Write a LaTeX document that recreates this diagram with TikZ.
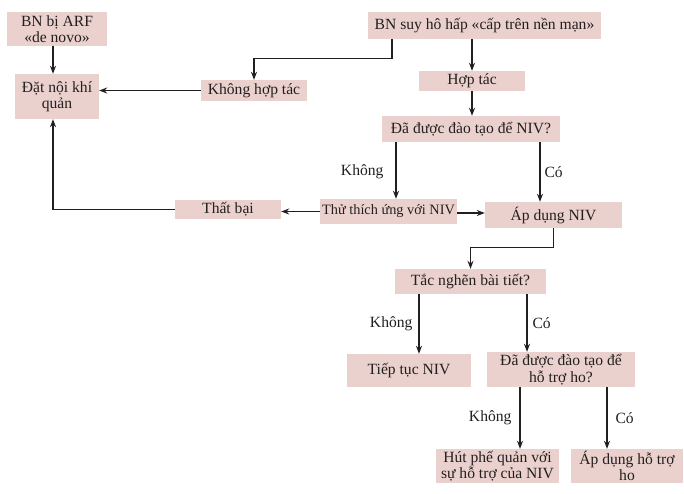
\documentclass[tikz,border=0pt]{standalone}
\usepackage{fontspec}
\setmainfont{Liberation Serif}
\usetikzlibrary{arrows.meta,calc}
\definecolor{boxfill}{HTML}{EBD1CD}
\definecolor{ink}{HTML}{231F20}
\begin{document}
\begin{tikzpicture}[x=1pt,y=-1pt,
 box/.style={fill=boxfill, inner sep=0pt, align=center, text=ink, font=\fontsize{15.6}{16.5}\selectfont},
 arr/.style={draw=ink, line width=1.1pt, -{Stealth[length=8pt,width=6pt]}},
 lbl/.style={text=ink, inner sep=0pt, font=\fontsize{15.6}{16.5}\selectfont}]
\useasboundingbox (0,0) rectangle (684,493);
% nodes
\node[box, minimum width=100pt, minimum height=34pt] (arf) at (57,29) {BN bị ARF\\«de novo»};
\node[box, minimum width=84pt, minimum height=45pt] (dat) at (57,96.5) {Đặt nội khí\\quản};
\node[box, minimum width=106pt, minimum height=21pt] (khong) at (254,90.5) {Không hợp tác};
\node[box, minimum width=233pt, minimum height=27pt] (bn) at (484.5,25.5) {BN suy hô hấp «cấp trên nền mạn»};
\node[box, minimum width=106pt, minimum height=20pt] (hop) at (472,81) {Hợp tác};
\node[box, minimum width=178pt, minimum height=26pt] (dao) at (471,129) {Đã được đào tạo để NIV?};
\node[box, minimum width=137pt, minimum height=25pt, font=\fontsize{14.3}{16}\selectfont] (thu) at (388.5,211.5) {Thử thích ứng với NIV};
\node[box, minimum width=106pt, minimum height=19pt] (that) at (228,209.5) {Thất bại};
\node[box, minimum width=137pt, minimum height=26pt] (ap) at (553.5,215) {Áp dụng NIV};
\node[box, minimum width=151pt, minimum height=25pt] (tac) at (470.5,281.5) {Tắc nghẽn bài tiết?};
\node[box, minimum width=124pt, minimum height=33pt] (tiep) at (409,370.5) {Tiếp tục NIV};
\node[box, minimum width=148pt, minimum height=35pt] (hoho) at (561,369.5) {Đã được đào tạo để\\hỗ trợ ho?};
\node[box, minimum width=123pt, minimum height=34pt] (hut) at (497.5,466) {Hút phế quản với\\sự hỗ trợ của NIV};
\node[box, minimum width=112pt, minimum height=34pt] (aph) at (627,466) {Áp dụng hỗ trợ\\ho};
% helper coordinates on box edges
\coordinate (a1) at ($(arf.south)+(-4,0)$);
\coordinate (b1) at ($(bn.south)+(-92.5,0)$);
\coordinate (d1) at ($(dao.south)+(-75,0)$);
\coordinate (d2) at ($(dao.south)+(69,0)$);
\coordinate (t1) at ($(tac.south)+(-51.5,0)$);
\coordinate (t2) at ($(tac.south)+(56.5,0)$);
\coordinate (h1) at ($(hoho.south)+(-41,0)$);
\coordinate (h2) at ($(hoho.south)+(46,0)$);
% connectors
\draw[arr] (a1) -- (a1 |- dat.north);
\draw[arr] (khong.west) -- (khong.west -| dat.east);
\draw[arr] (b1) -- ++(0,19) -| (khong.north);
\draw[arr] (bn.south -| hop.north) -- (hop.north);
\draw[arr] (hop.south) -- (hop.south |- dao.north);
\draw[arr] (d1) -- (d1 |- thu.north) node[lbl, pos=0.53, left=12pt] {Không};
\draw[arr] (d2) -- (d2 |- ap.north) node[lbl, pos=0.5, right=4pt] {Có};
\draw[arr] (thu.west) -- (thu.west -| that.east);
\draw[arr] ($(thu.east)+(0,1.5)$) -- ($(thu.east -| ap.west)+(0,1.5)$);
\draw[arr] (that.west) -| (a1 |- dat.south);
\draw[arr] (ap.south) -- ++(0,19) -| (tac.north);
\draw[arr] (t1) -- (t1 |- tiep.north) node[lbl, pos=0.5, left=6pt] {Không};
\draw[arr] (t2) -- (t2 |- hoho.north) node[lbl, pos=0.5, right=5pt] {Có};
\draw[arr] (h1) -- (h1 |- hut.north) node[lbl, pos=0.5, left=8pt] {Không};
\draw[arr] (h2) -- (h2 |- aph.north) node[lbl, pos=0.5, right=8pt] {Có};
\end{tikzpicture}
\end{document}
